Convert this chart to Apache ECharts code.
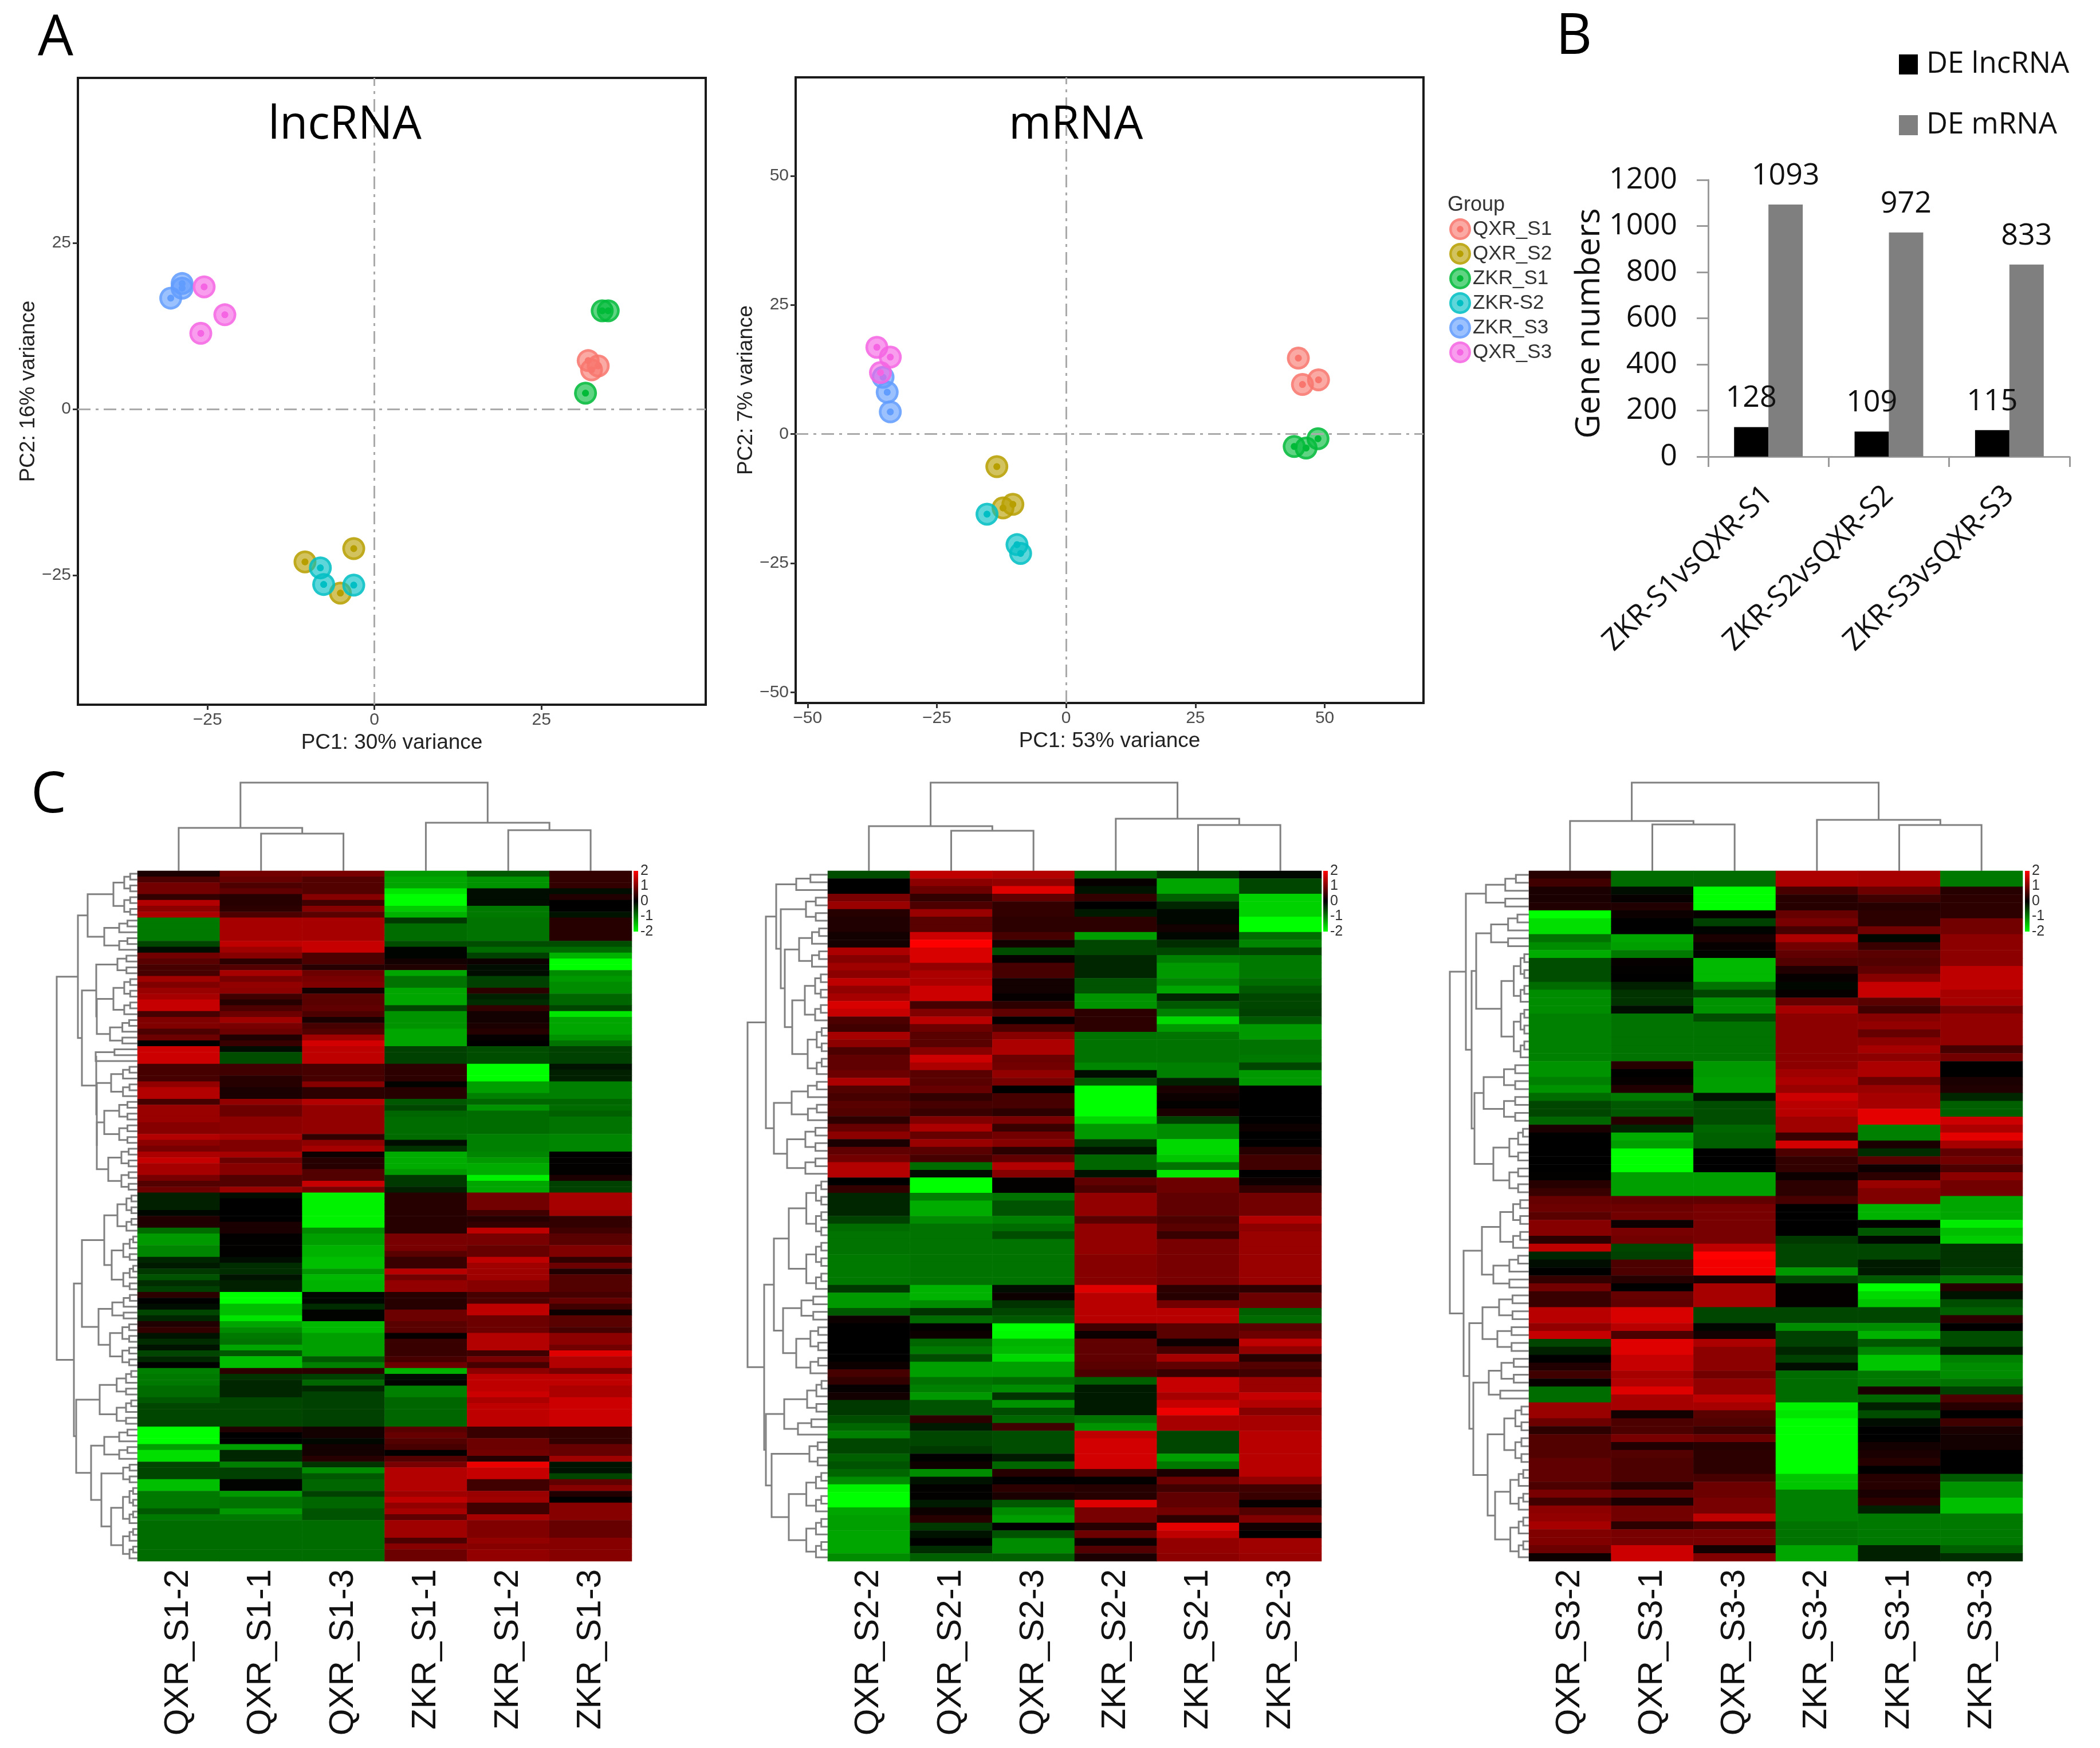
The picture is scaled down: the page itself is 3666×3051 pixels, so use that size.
<!DOCTYPE html>
<html><head><meta charset="utf-8">
<style>html,body{margin:0;padding:0;background:#fff}#c{width:3666px;height:3051px}</style>
<script src="https://cdn.jsdelivr.net/npm/echarts@6/dist/echarts.min.js"></script>
</head><body><div id="c"></div>
<script>
// ---------- Panel A: PCA scores ----------
const groupNames = ['QXR_S1','QXR_S2','ZKR_S1','ZKR-S2','ZKR_S3','QXR_S3'];
const groupColors = ['#F8766D','#B79F00','#00BA38','#00BFC4','#619CFF','#F564E3'];
const lncQXR_S1=[[32.0,7.3],[33.5,6.5],[32.5,5.9]];
const lncQXR_S2=[[-10.4,-23.0],[-3.1,-21.0],[-5.1,-27.7]];
const lncZKR_S1=[[31.6,2.4],[34.1,14.8],[35.0,14.8]];
const lncZKR_S2=[[-8.1,-23.9],[-7.6,-26.4],[-3.1,-26.5]];
const lncZKR_S3=[[-30.5,16.7],[-28.8,18.2],[-28.8,18.9]];
const lncQXR_S3=[[-25.5,18.4],[-22.4,14.2],[-26.0,11.4]];
const mQXR_S1=[[44.9,14.7],[45.7,9.6],[48.8,10.5]];
const mQXR_S2=[[-13.4,-6.3],[-12.2,-14.3],[-10.3,-13.6]];
const mZKR_S1=[[44.1,-2.4],[46.4,-2.7],[48.7,-0.9]];
const mZKR_S2=[[-15.3,-15.5],[-9.5,-21.4],[-8.8,-23.1]];
const mZKR_S3=[[-35.4,11.0],[-34.6,8.1],[-34.0,4.3]];
const mQXR_S3=[[-36.6,16.8],[-34.0,14.9],[-35.9,11.9]];
const lncTicks=[-25,0,25];
const mTicks=[-50,-25,0,25,50];
// ---------- Panel B: DE counts ----------
const compareLabels=['ZKR-S1vsQXR-S1','ZKR-S2vsQXR-S2','ZKR-S3vsQXR-S3'];
const deLnc=[128,109,115];
const deMrna=[1093,972,833];
// ---------- Panel C: heatmap columns, as [value, row count, value, row count, ...] ----------
const h1Labels=['QXR_S1-2','QXR_S1-1','QXR_S1-3','ZKR_S1-1','ZKR_S1-2','ZKR_S1-3'];
const h2Labels=['QXR_S2-2','QXR_S2-1','QXR_S2-3','ZKR_S2-2','ZKR_S2-1','ZKR_S2-3'];
const h3Labels=['QXR_S3-2','QXR_S3-1','QXR_S3-3','ZKR_S3-2','ZKR_S3-1','ZKR_S3-3'];
const h1c0=[.2,1,.6,1,.9,2,.4,1,1.4,1,1.1,1,1.35,1,-.95,4,-.55,1,-.1,1,.9,1,.7,1,.55,2,1.25,1,1,1,1.2,1,1.3,1,1.55,2,.55,1,1,2,.6,1,.85,1,0,1,1.6,3,.55,3,1.15,1,1.4,2,.55,1,1.2,3,1.05,2,1.4,1,1.1,1,.95,1,1.35,1,1.55,1,1.3,2,.95,1,.65,1,.85,1,-.25,3,-.05,1,.25,2,-.85,1,-1.2,2,-1.05,2,-.3,1,-.2,1,-.45,1,-.65,1,-.35,1,-.5,1,.35,1,0,1,-.1,1,-.55,1,-.3,1,.25,1,.4,1,-.15,1,-.35,1,-.15,1,-.55,1,-.3,1,0,1,-1,1,-.95,2,-.85,2,-.7,1,-.55,4,-2,3,-1.25,1,-1.75,2,-.55,3,-1.5,2,-.95,3,-.7,1,-.95,1,-.85,7];
const h1c1=[.9,1,.8,1,.6,1,.75,1,.3,2,.35,1,.6,1,1.3,4,1.5,1,1.25,1,1.05,1,.35,1,.65,1,1.3,1,.95,1,1.15,1,1.1,1,.5,1,.3,1,.6,1,.85,1,1.25,1,.95,1,.85,1,.25,1,.45,1,-.1,1,-.6,2,.5,2,.3,2,.2,2,1.15,1,.85,2,1.1,3,1.3,1,1,2,1.3,1,.85,1,1.05,2,.65,2,1.2,1,-.1,1,0,4,.2,2,.02,4,-.1,1,-.35,2,-.15,1,-.25,2,-2,2,-1.5,2,-1.8,1,-1.3,1,-1.1,1,-.95,1,-.9,1,-1.3,1,-.7,1,-1.5,2,.35,1,-.4,1,-.3,3,-.55,5,.25,1,0,2,-1.25,1,-.3,2,-1,1,-.5,2,-.02,2,-1.2,1,-.9,2,-1.2,1,-.95,1,-.85,7];
const h1c2=[.95,1,.65,3,1.05,1,.5,1,1.05,1,.7,1,1.3,4,1.55,2,.6,2,.3,1,.85,1,.95,1,1,1,.15,1,.7,2,.75,1,.6,1,.2,1,.55,1,.65,1,1.25,1,1.65,1,1.5,3,.55,3,1.05,1,.35,2,1.4,1,1.15,5,.4,1,1.1,1,1.3,1,.1,1,.3,2,.65,2,1.55,1,.95,1,-1.9,6,-1.1,1,-1.25,2,-1.4,2,-1.5,2,-1.2,1,-1.45,1,-1.4,2,-.05,2,-.35,1,-.02,2,-1.45,2,-1.25,4,-.7,1,-1,1,.35,1,-.5,1,-.8,1,-.3,1,-.5,6,.15,2,-.05,1,.15,2,.3,1,-.4,1,-1.1,1,-.7,1,-.8,2,-.5,1,-.8,2,-.65,2,-.85,7];
const h1c3=[-1.2,1,-1.3,2,-1.8,1,-2,2,-1.6,1,-1.4,1,-.45,1,-.85,3,-.6,1,-.03,2,.15,1,.25,1,-1.3,1,-.9,2,-1.3,3,-.55,1,-1.15,3,-1.3,3,-.5,3,.35,3,-.02,1,.3,2,-.7,1,-.55,1,-.8,1,-.85,4,-.1,1,-.4,1,-1.35,3,-1.2,1,-.45,2,-.25,1,.3,7,.95,3,.7,1,.45,2,1.45,1,.9,1,1.15,2,.3,3,.85,2,.7,2,.05,1,.45,3,.55,1,.85,1,-1.4,1,-.1,1,-.02,1,-1,2,-.8,5,.7,1,.8,1,.65,1,.55,1,.02,1,.65,1,.95,1,1.4,4,1.25,1,1.5,1,1.15,1,1.3,1,.75,1,1.25,3,.6,1,1.05,1,.85,2];
const h1c4=[-.7,1,-1.15,2,-.1,3,-.95,2,-.9,4,-.6,1,-.85,1,-.5,1,.1,1,-.1,2,-.5,2,.35,1,-.25,1,-.35,1,.4,1,.15,2,.2,1,.3,1,.05,1,0,1,-.6,3,-2,3,-1.25,2,-1,1,-.8,1,-1.15,1,-.85,4,-1,3,-1.05,1,-1.2,1,-1.35,2,-1.9,1,-1.3,2,.9,3,.5,1,.3,1,.4,1,1.5,1,.95,2,.8,2,1.5,1,1.25,3,1.05,2,.55,1,.6,1,1.5,2,.85,3,1.4,3,.5,1,.95,1,.55,1,1.1,1,1.5,3,1.6,1,1.35,1,1.5,4,.45,2,.85,2,.9,1,.3,1,1.85,1,1.55,2,.5,2,1.2,1,1.25,1,.5,2,1.3,1,1,3,1.15,1,1.05,1,1.15,2];
const h1c5=[.4,3,-.1,1,.25,1,0,2,-.15,1,.3,4,-.6,1,-.85,1,-1.4,1,-2,2,-1.1,1,-1.2,1,-1.1,2,-.8,2,-.55,1,-1.8,1,-1.3,3,-1.15,1,-.9,1,-.5,3,-.15,1,-.25,2,-1,3,-.8,1,-.85,1,-.75,1,-.9,3,-1.05,3,0,1,.02,3,.2,1,-.5,2,1.3,3,1.25,1,.4,2,.5,1,.7,2,1,2,.4,1,.85,1,.25,1,.65,3,.55,1,.8,1,.5,1,.1,1,.7,2,.55,1,1.1,2,.9,1,1.75,1,1.4,2,.95,1,1.5,2,1.35,2,1.6,5,.4,3,.8,2,1.25,1,-.15,2,-.55,1,.75,1,1.05,1,.25,1,0,1,1.05,3,.8,3,1.05,4];
const h2c0=[-.6,1,0,2,.95,1,1.2,1,.3,1,.25,2,.15,2,1.35,1,1.05,1,1.25,1,1.1,1,1.5,1,1.15,1,1.3,1,1.7,1,1.55,1,.6,1,.5,1,1.3,1,1.1,1,.6,1,.75,2,.85,1,1.35,1,.65,1,.55,1,.7,1,.65,1,.35,1,.8,1,1.1,1,.2,1,.75,1,.9,1,1.4,2,0,1,.4,1,-.3,3,-.5,1,-.85,1,-.9,3,-.95,4,-.45,1,-1.2,2,-.7,1,.1,1,0,5,.1,1,.55,1,.4,1,.05,1,.15,1,-.45,2,-.6,1,-.8,1,-1,1,-.55,2,-.75,1,-.65,1,-.8,1,-1.1,1,-1.9,1,-2,2,-1.3,1,-1.25,2,-1.3,3,-1.1,1];
const h2c1=[1.5,1,1.1,1,.85,1,.4,1,.6,1,1.2,1,.7,2,1.6,1,2,1,1.7,2,1.15,1,1.35,2,1.6,2,.55,1,1,1,1.45,1,.85,1,.7,2,1.05,1,1.6,1,1.35,1,.7,2,.8,1,.4,1,.55,1,.45,1,1,1,1.35,1,.8,1,1.2,1,.7,1,.55,1,-.85,1,-.1,1,-2,2,-1,1,-1.35,2,-1.1,1,-.9,8,-1.4,2,-1.1,1,-.4,1,-.85,1,.02,1,.1,1,-.8,1,-.95,1,-.6,1,-1.25,2,-.9,1,-1,1,-1.2,1,-.65,2,.35,1,-.2,1,-.55,2,-.45,1,0,1,.12,1,-1.1,1,-.15,1,.02,2,-.2,1,.1,1,.3,1,-.45,1,-.15,1,0,1,-.35,1,-.75,1];
const h2c2=[1.4,1,1.15,1,1.75,1,.75,1,.4,2,.35,2,.55,1,.15,1,-.6,1,.05,1,.55,2,.15,2,.05,1,.35,1,.75,1,.03,1,.6,1,1.05,1,1.35,2,.85,1,.9,1,1.15,1,.95,1,0,1,.55,2,.35,1,.95,1,.45,1,.9,1,1.05,1,.35,1,.75,1,1.4,1,1.05,1,.02,2,-.9,1,-.65,2,-1,1,-.85,1,-.6,1,-.9,6,-.1,1,.1,1,-.4,1,-.55,1,-.7,1,-2,1,-1.95,1,-1.4,1,-1.45,1,-1.7,1,-1.25,2,-.85,1,-1.1,1,-.4,1,-1.15,1,-.6,1,-.8,1,.5,1,-.6,3,-.2,1,-.8,1,.3,1,0,1,.35,1,.2,1,-.7,1,-1.1,1,-1.25,1,0,1,-.65,1,-1.1,2,-.75,1];
const h2c3=[-.8,1,.05,1,-.15,1,.4,1,0,1,-.2,1,.35,2,-1.25,1,-.55,2,-.3,3,-.65,2,-1.15,2,.35,3,-.9,4,-1.05,1,-.1,1,-.7,1,-2,4,-1.7,1,-1.2,2,-.45,1,-.15,1,-.8,2,-.15,1,.75,1,.6,1,1.15,3,.7,1,1.15,4,1.05,4,1.75,1,1.45,4,.5,1,.1,1,.75,3,.7,1,.6,1,-.75,1,-.2,4,-.9,1,-1.15,1,1.5,1,1.65,4,.6,1,.02,1,.3,2,1.75,1,.95,2,.3,1,.85,1,.1,1,.65,1,.2,1];
const h2c4=[-.4,1,-1.3,2,-.75,1,-.3,1,-.05,2,.15,1,-.05,1,-.35,1,-.55,1,-1,1,-1.2,2,-1.05,1,-1.3,1,-.3,1,-.7,1,-1,1,-1.7,1,-1.2,1,-.9,4,-1,2,-.25,1,.2,1,.1,1,.02,1,.2,1,-.5,1,-1.1,2,-1.7,2,-1.55,1,-.9,1,-1.8,1,.85,2,.75,3,.6,1,.7,1,.45,1,.95,6,.35,1,.3,1,.9,1,1.45,2,.7,2,.1,1,.55,1,1.3,1,.75,1,.45,1,1.55,2,1.3,1,1.55,1,1.85,1,1.3,2,-.55,3,-1.25,1,-.95,1,.2,1,.85,1,.5,1,.75,2,.9,1,.35,1,1.8,1,1.5,1,1.15,2,1.1,1];
const h2c5=[-.05,1,-.55,2,-1.65,3,-2,2,-.85,1,-1.05,1,-.55,1,-.95,3,-.85,1,-.7,1,-.55,2,-.5,1,-.7,1,-1.2,2,-.9,2,-.95,1,-.55,1,-1.2,2,0,5,.1,1,0,2,.3,1,.5,2,0,1,.1,1,.4,1,.9,3,1.4,1,1.1,1,1.2,7,.35,1,.85,2,-.75,1,-.85,1,.7,1,.85,1,1.5,1,1.15,1,.3,1,.65,1,.5,1,1.2,2,1.55,1,1.4,1,1.05,1,1.3,2,1.45,6,1.15,1,.5,1,.45,1,.05,1,.65,1,1,1,.15,1,0,1,1.25,2,1.2,1];
const h3c0=[.3,1,.5,1,.2,2,.25,1,-2,1,-1.75,2,-.9,1,-1.1,1,-1.35,1,-.6,3,-.85,1,-1.1,3,-1,6,-1.15,2,-1,1,-1.15,1,-.85,1,-.55,2,-.8,1,.2,1,0,5,.02,1,.3,1,.45,1,.8,1,.85,1,.7,1,1.05,2,.35,1,1.5,1,-.3,1,-.1,1,0,1,.4,1,.9,1,.45,2,1.45,2,1.15,1,1.55,1,-.55,1,-.25,1,0,1,.25,1,.5,1,.05,1,-.85,2,1.2,2,.85,1,.35,1,.65,3,.75,3,.6,1,.95,1,.5,1,1.1,1,1.15,1,1.3,1,1,2,.85,1,.1,1];
const h3c1=[-.85,2,-.1,1,.05,1,.25,1,.1,1,0,2,-1.3,1,-1.25,1,-.95,1,.05,1,.02,1,0,1,-.25,1,-.4,2,-.1,1,-.9,6,.3,1,0,1,.05,1,.25,1,-.95,1,-.7,2,.3,1,-.3,1,-1.35,1,-1.25,1,-2,3,-1.25,3,.75,1,.85,1,.9,1,.1,1,.95,1,.9,1,-.55,1,-.5,1,.6,2,.3,1,0,1,.8,1,.75,1,1.7,2,1.45,1,.6,1,1.75,2,1.55,2,1.3,1,1.4,1,1.75,1,1.3,2,.15,1,.6,2,.95,1,.25,1,.65,1,.6,3,.3,1,.8,1,.2,1,.9,2,.35,1,.95,2,1.6,2];
const h3c2=[-.85,2,-2,3,.05,1,-.5,1,-.02,1,.2,1,.05,1,-.02,1,-1.45,3,-.9,1,-.55,1,-1.15,2,-.6,1,-.9,5,-1.2,2,-1.25,2,-.15,1,-.6,3,-.8,1,-.75,2,0,3,-1.25,3,.75,1,.95,5,1.5,1,2,1,1.9,2,.2,1,1.3,3,-.55,2,-.05,1,.15,1,1.35,1,1.1,3,.9,1,1.15,2,1.5,1,1.3,1,.7,1,.65,1,.45,1,.85,1,.3,1,.35,3,.55,1,.85,2,.95,2,1.5,1,.55,1,.95,2,.15,1,1,1];
const h3c3=[1.35,2,.55,1,.3,2,.8,1,.95,1,.55,1,1.35,1,.9,1,.75,1,.65,1,.25,1,.05,1,-.05,1,.05,1,.8,1,1.3,1,1.1,7,1.25,1,1.35,1,1.2,1,1.6,1,1.45,2,1.25,2,.45,1,1.65,1,.6,1,.4,2,.1,1,.35,2,.55,1,0,4,-.45,1,-.55,3,-1.2,1,-.55,1,.03,3,-.55,2,-1.1,1,-.5,2,-.3,1,-.5,1,-.1,1,-.85,4,-1.9,1,-1.8,1,-2,7,-1.55,2,-1,4,-.9,3,-1.3,2];
const h3c4=[1.3,2,.85,1,.5,1,.3,1,.35,2,.9,1,-.05,1,.45,1,.7,1,.65,1,.75,1,1.05,1,1.55,2,.7,1,.5,1,1.05,1,1.15,1,.8,1,1.1,1,1.3,1,1.1,1,1.35,2,.85,1,1.2,1,1.3,2,1.8,2,-1,2,.2,1,-.35,1,.7,1,.1,1,.35,1,1.2,1,1,2,-1.4,2,.02,1,-.7,1,-.05,1,-.55,2,-.2,2,-.7,1,-2,1,-1.7,1,-1.55,1,-.55,2,-1.1,1,-1.4,1,-.7,1,-1.05,1,-1.55,2,-.95,2,.2,1,-.8,1,-.25,1,-.6,1,-.1,1,0,2,.15,1,.2,1,.3,1,0,1,.3,2,.2,1,.35,1,-.25,1,-.95,4,-.25,2];
const h3c5=[-.95,2,.3,1,.35,3,.9,2,1.1,4,1.5,3,1.3,2,.95,1,1.15,4,.55,1,.9,1,0,2,.2,1,.25,1,-.3,1,-.75,2,1.6,1,1.35,1,1.8,1,1.3,1,.75,1,.9,1,.6,1,1.1,1,.9,2,-1.3,3,-1.85,1,-1.5,1,-1.6,1,-.4,3,-.45,1,-.95,1,.3,1,-.15,1,-.6,1,-.75,1,.35,1,0,1,-.6,2,-.2,1,-1,1,-1.1,2,-.9,1,-.5,1,.6,1,.3,1,0,1,.5,1,.2,1,.15,2,0,3,-.7,1,-1.15,2,-1.5,2,-.95,4,-.75,1,-.35,1];
// dendrogram merges: [height, childA, childB]; [height, n] is a small cluster of n rows
const rowTree1=[141,[104,[87,[42,8],[58,6]],[97,[72,[35,4],[71,[42,7],[48,5]]],[72,[73,3],[71,[46,6],[71,[58,8],[51,8]]]]]],[111,[97,[58,[35,7],[45,10]],[68,[44,5],[48,8]]],[107,[66,10],[81,[58,6],[63,[25,4],[46,13]]]]]];
const rowTree2=[140,[108,[90,[55,3],[82,[38,4],[75,[50,6],[62,[40,7],[35,7]]]]],[94,[63,6],[71,7]]],[111,[94,[68,15],[78,[46,4],[55,7]]],[108,[76,[36,5],[52,3]],[98,[32,4],[68,12]]]]];
const rowTree3=[138,[110,[75,5],[100,[92,[66,5],[48,14]],[95,[79,8],[62,9]]]],[114,[82,[50,7],[62,5]],[104,[81,[52,4],[55,4]],[97,[70,[48,4],[50,2]],[72,[43,8],[59,12]]]]]];
const colTree1=[154,[75,0,[65,1,2]],[84,3,[71,4,5]]];
const colTree2=[154,[78,0,[70,1,2]],[91,3,[80,4,5]]];
const colTree3=[154,[87,0,[81,1,2]],[89,3,[80,4,5]]];
const colorbarTicks=[-2,-1,0,1,2];

const heatSets=[
 {cols:[h1c0,h1c1,h1c2,h1c3,h1c4,h1c5],rows:118,labels:h1Labels,rowTree:rowTree1,colTree:colTree1,left:240,width:863,bar:1106},
 {cols:[h2c0,h2c1,h2c2,h2c3,h2c4,h2c5],rows:90,labels:h2Labels,rowTree:rowTree2,colTree:colTree2,left:1445,width:862,bar:2310},
 {cols:[h3c0,h3c1,h3c2,h3c3,h3c4,h3c5],rows:87,labels:h3Labels,rowTree:rowTree3,colTree:colTree3,left:2669,width:862,bar:3535}
];
const SANS='"Liberation Sans",Arial,sans-serif', OPEN='"Open Sans",sans-serif';
const grids=[],xAxes=[],yAxes=[],series=[],visualMaps=[];
function addGrid(g,x,y){grids.push(Object.assign({containLabel:false},g));const i=grids.length-1;
  xAxes.push(Object.assign({gridIndex:i},x));yAxes.push(Object.assign({gridIndex:i},y));return i;}
const hidden={show:false};
const plain=v=>String(v);

// ---- PCA panels
function gradient(c){const a=(v)=>c+v;return {type:'radial',x:.5,y:.5,r:.5,colorStops:[
 {offset:0,color:c},{offset:.28,color:c},{offset:.32,color:a('A0')},{offset:.74,color:a('A0')},{offset:.78,color:a('E0')},{offset:1,color:a('E0')}]};}
function pca(box,xr,yr,xt,yt,xname,yname,sets,ynameGap){
  const tk={lineStyle:{color:'#333',width:3},length:9};
  const lab={color:'#4D4D4D',fontSize:30,fontFamily:SANS,margin:12,formatter:v=>String(v).replace('-','\u2212')};
  const noLine={show:false,onZero:false};
  const i=addGrid({left:box[0],top:box[1],width:box[2],height:box[3],show:true,borderColor:'#1a1a1a',borderWidth:4,backgroundColor:'#fff'},
   {type:'value',min:xr[0],max:xr[1],splitLine:hidden,axisLine:noLine,axisTick:Object.assign({show:true,customValues:xt},tk),axisLabel:Object.assign({customValues:xt},lab),
    name:xname,nameLocation:'middle',nameGap:48,nameTextStyle:{fontSize:37,fontFamily:SANS,color:'#222'}},
   {type:'value',min:yr[0],max:yr[1],splitLine:hidden,axisLine:noLine,axisTick:Object.assign({show:true,customValues:yt},tk),axisLabel:Object.assign({customValues:yt},lab),
    name:yname,nameLocation:'middle',nameGap:ynameGap,nameRotate:90,nameTextStyle:{fontSize:37,fontFamily:SANS,color:'#222'}});
  sets.forEach((d,k)=>{const s={type:'scatter',name:groupNames[k],xAxisIndex:i,yAxisIndex:i,data:d,symbol:'circle',symbolSize:40,
     itemStyle:{color:gradient(groupColors[k]),opacity:1},z:3};
    if(k===0)s.markLine={silent:true,symbol:'none',animation:false,label:{show:false},lineStyle:{color:'#aaaaaa',width:3,type:[22,9,5,9]},data:[{xAxis:0},{yAxis:0}]};
    series.push(s);});
}
pca([136,136,1096,1094],[-44.4,49.6],[-44.5,49.85],lncTicks,lncTicks,'PC1: 30% variance','PC2: 16% variance',[lncQXR_S1,lncQXR_S2,lncZKR_S1,lncZKR_S2,lncZKR_S3,lncQXR_S3],68);
pca([1389,135,1096,1092],[-52.3,69.1],[-52.05,69.05],mTicks,mTicks,'PC1: 53% variance','PC2: 7% variance',[mQXR_S1,mQXR_S2,mZKR_S1,mZKR_S2,mZKR_S3,mQXR_S3],68);

// ---- bars
{const axisCol='#9a9a9a';
 const i=addGrid({left:2982,top:314,width:631,height:483},
 {type:'category',data:compareLabels,axisLine:{lineStyle:{color:axisCol,width:3}},axisTick:{show:true,length:18,lineStyle:{color:axisCol,width:3}},
  axisLabel:{rotate:44,interval:0,fontFamily:OPEN,fontSize:51,color:'#111',margin:60}},
 {type:'value',min:0,max:1200,interval:200,splitLine:hidden,axisLine:{show:true,lineStyle:{color:axisCol,width:3}},axisTick:{show:true,length:20,lineStyle:{color:axisCol,width:3}},
  axisLabel:{fontFamily:OPEN,fontSize:52,color:'#111',margin:54,formatter:plain},
  name:'Gene numbers',nameLocation:'middle',nameGap:178,nameRotate:90,nameTextStyle:{fontFamily:OPEN,fontSize:58,color:'#111',padding:[0,18,0,0]}});
 const lbl={show:true,position:'top',distance:24,fontFamily:OPEN,fontSize:52,color:'#111'};
 series.push({type:'bar',name:'DE lncRNA',xAxisIndex:i,yAxisIndex:i,data:deLnc,barGap:0,barCategoryGap:'43%',itemStyle:{color:'#000'},label:lbl});
 series.push({type:'bar',name:'DE mRNA',xAxisIndex:i,yAxisIndex:i,data:deMrna,barGap:0,barCategoryGap:'43%',itemStyle:{color:'#7f7f7f'},label:lbl});
}

// ---- heatmaps
function expand(r,n){const o=[];for(let i=0;i<r.length;i+=2)for(let j=0;j<r[i+1];j++)o.push(r[i]);while(o.length<n)o.push(o[o.length-1]);return o.slice(0,n);}
function comb(h,n,st,links){ if(n===1)return{p:st+.5,h:0};
  const a=Math.ceil(n/2),ch=h*.55,A=comb(ch,a,st,links),B=comb(ch,n-a,st+a,links);
  links.push([A.h,A.p,h,B.p,B.h]);return{p:(A.p+B.p)/2,h};}
function rowLayout(node,st,links){
  if(node.length===2){const r=comb(node[0],node[1],st,links);r.n=node[1];return r;}
  const A=rowLayout(node[1],st,links),B=rowLayout(node[2],st+A.n,links);
  links.push([A.h,A.p,node[0],B.p,B.h]);return{p:(A.p+B.p)/2,h:node[0],n:A.n+B.n};}
function colLayout(node,links){
  if(typeof node==='number')return{p:node+.5,h:0};
  const A=colLayout(node[1],links),B=colLayout(node[2],links);
  links.push([A.p,A.h,node[0],B.p,B.h]);return{p:(A.p+B.p)/2,h:node[0]};}
const den={stroke:'#808080',lineWidth:3,fill:null};
const renderRow=(p,api)=>{const v=[0,1,2,3,4].map(k=>api.value(k));
  return{type:'polyline',shape:{points:[api.coord([v[0],v[1]]),api.coord([v[2],v[1]]),api.coord([v[2],v[3]]),api.coord([v[4],v[3]])]},style:den,silent:true};};
const renderCol=(p,api)=>{const v=[0,1,2,3,4].map(k=>api.value(k));
  return{type:'polyline',shape:{points:[api.coord([v[0],v[1]]),api.coord([v[0],v[2]]),api.coord([v[3],v[2]]),api.coord([v[3],v[4]])]},style:den,silent:true};};
const H_TOP=1520,H_H=1205;
heatSets.forEach(h=>{
  const rows=[...Array(h.rows).keys()].map(String);
  const data=[];h.cols.forEach((c,x)=>expand(c,h.rows).forEach((v,y)=>data.push([x,y,v])));
  const i=addGrid({left:h.left,top:H_TOP,width:h.width,height:H_H},
   {type:'category',data:h.labels,axisLine:hidden,axisTick:hidden,splitLine:hidden,axisLabel:{rotate:90,interval:0,fontFamily:SANS,fontSize:60,color:'#111',margin:14}},
   {type:'category',data:rows,inverse:true,show:false});
  const si=series.length;
  series.push({type:'heatmap',xAxisIndex:i,yAxisIndex:i,data,progressive:0,emphasis:{disabled:true}});
  visualMaps.push({show:false,type:'continuous',min:-2,max:2,dimension:2,seriesIndex:si,inRange:{color:['#00FF00','#000000','#FF0000']}});
  // left dendrogram
  const rl=[];rowLayout(h.rowTree,0,rl);
  const j=addGrid({left:h.left-190,top:H_TOP,width:190,height:H_H},
   {type:'value',min:0,max:190,inverse:true,show:false},{type:'value',min:0,max:h.rows,inverse:true,show:false});
  series.push({type:'custom',xAxisIndex:j,yAxisIndex:j,data:rl,renderItem:renderRow,silent:true,clip:false,encode:{x:[0,2,4],y:[1,3]}});
  // top dendrogram
  const cl=[];colLayout(h.colTree,cl);
  const k=addGrid({left:h.left,top:H_TOP-160,width:h.width,height:160},
   {type:'value',min:0,max:6,show:false},{type:'value',min:0,max:160,show:false});
  series.push({type:'custom',xAxisIndex:k,yAxisIndex:k,data:cl,renderItem:renderCol,silent:true,clip:false,encode:{x:[0,3],y:[1,2,4]}});
  // colour key
  const b=addGrid({left:h.bar,top:H_TOP,width:8,height:106},
   {type:'category',data:[''],show:false},
   {type:'value',min:-2,max:2,interval:1,position:'right',splitLine:hidden,axisLine:hidden,axisTick:hidden,axisLabel:{customValues:colorbarTicks,fontFamily:SANS,fontSize:25,color:'#333',margin:4}});
  series.push({type:'bar',xAxisIndex:b,yAxisIndex:b,data:[2],barWidth:'100%',barGap:'-100%',silent:true,itemStyle:{color:{type:'linear',x:0,y:0,x2:0,y2:1,colorStops:[{offset:0,color:'#FF0000'},{offset:1,color:'#000'}]}}});
  series.push({type:'bar',xAxisIndex:b,yAxisIndex:b,data:[-2],barWidth:'100%',barGap:'-100%',silent:true,itemStyle:{color:{type:'linear',x:0,y:0,x2:0,y2:1,colorStops:[{offset:0,color:'#000'},{offset:1,color:'#00FF00'}]}}});
});

function txt(text,left,top,size,fam,color){return{text,left,top,padding:0,textStyle:{fontSize:size,lineHeight:size,fontFamily:fam,fontWeight:'normal',color:color||'#000'}};}
const titles=[txt('A',66,19,98,OPEN),txt('B',2716,17,98,OPEN),txt('C',54,1341,98,OPEN),
 txt('lncRNA',468,179,80,OPEN),txt('mRNA',1761,179,80,OPEN),txt('Group',2527,340,36,SANS,'#333')];

const chart=echarts.init(document.getElementById('c'),null,{renderer:'canvas'});
chart.setOption({animation:false,backgroundColor:'#fff',title:titles,
 legend:[
  {data:groupNames.map(name=>({name,icon:'circle'})),orient:'vertical',left:2530,top:381,itemWidth:38,itemHeight:38,itemGap:5,padding:0,selectedMode:false,
   textStyle:{fontFamily:SANS,fontSize:35,color:'#333',padding:[0,0,0,-2]}},
  {data:[{name:'DE lncRNA',icon:'rect'},{name:'DE mRNA',icon:'rect'}],orient:'vertical',left:3315,top:87,itemWidth:33,itemHeight:35,itemGap:55,padding:0,selectedMode:false,
   textStyle:{fontFamily:OPEN,fontSize:51,color:'#111',padding:[0,0,0,10]}}],
 grid:grids,xAxis:xAxes,yAxis:yAxes,visualMap:visualMaps,series});
</script></body></html>
